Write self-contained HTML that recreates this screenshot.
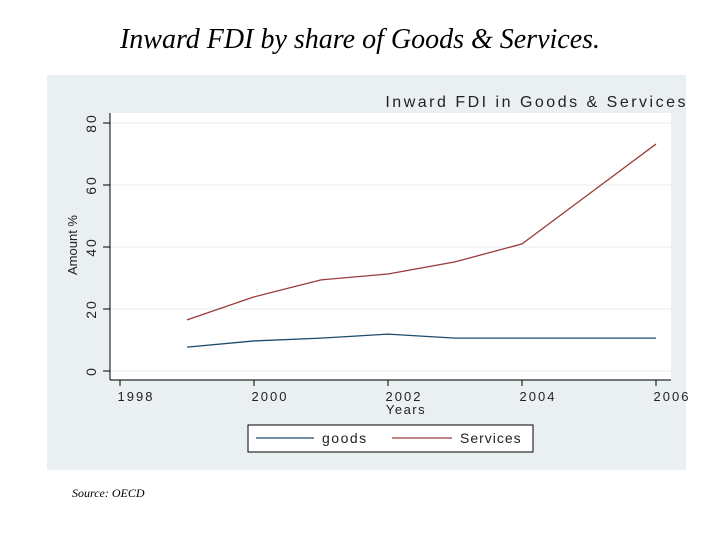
<!DOCTYPE html>
<html><head><meta charset="utf-8"><style>
body{margin:0;width:720px;height:540px;background:#fff;overflow:hidden;font-family:"Liberation Sans",sans-serif}
</style></head><body>
<svg width="720" height="540">
<text x="360" y="48" text-anchor="middle" font-family="Liberation Serif" font-style="italic" font-size="28">Inward FDI by share of Goods &amp; Services.</text>
<rect x="47" y="75" width="639" height="395" fill="#eaf0f2"/>
<rect x="110" y="113" width="561" height="266" fill="#fff"/>
<text x="688" y="107" text-anchor="end" font-size="16" fill="#222" letter-spacing="2.5">Inward FDI in Goods &amp; Services</text>
<g id="grid"></g><g id="axes"></g><g id="lines"></g>
<text x="406" y="414" text-anchor="middle" font-size="13" fill="#222" letter-spacing="1.5">Years</text>
<text transform="translate(77,245) rotate(-90)" text-anchor="middle" font-size="13" fill="#222">Amount %</text>
<rect x="248" y="425" width="285" height="27" fill="#fff" stroke="#000"/>
<line x1="256" y1="438" x2="314" y2="438" stroke="#1a4a6b" stroke-width="1.2"/>
<text x="322" y="443" font-size="14" fill="#222" letter-spacing="1.5">goods</text>
<line x1="392" y1="438" x2="452" y2="438" stroke="#9a3a3a" stroke-width="1.2"/>
<text x="460" y="443" font-size="14" fill="#222" letter-spacing="1">Services</text>
<text x="72" y="497" font-family="Liberation Serif" font-style="italic" font-size="12">Source: OECD</text>
</svg>
<script>
const years=[1999,2000,2001,2002,2003,2004,2005,2006];
const goods=[7.7,9.7,10.6,11.9,10.6,10.6,10.6,10.6];
const services=[16.5,23.9,29.4,31.3,35.2,41,57.1,73.2];
const xTicks=[1998,2000,2002,2004,2006];
const yTicks=[0,20,40,60,80];
const X=v=>120+(v-1998)*67, Y=v=>371-v*3.1;
const ns="http://www.w3.org/2000/svg";
function mk(p,t,a){const e=document.createElementNS(ns,t);for(const k in a)e.setAttribute(k,a[k]);document.getElementById(p).appendChild(e);return e;}
yTicks.forEach(v=>{
 const g=mk('grid','line',{x1:110,x2:671,y1:Y(v),y2:Y(v),stroke:'#e6eef2'});
 
 
 const t=mk('axes','line',{x1:103,x2:110,y1:Y(v),y2:Y(v),stroke:'#000'});
 
 
 const l=mk('axes','text',{transform:`translate(96,${Y(v)}) rotate(-90)`,'text-anchor':'middle','font-size':14,fill:'#222','letter-spacing':'2'});
 l.textContent=v;
 
 
});
xTicks.forEach(v=>{
 const t=mk('axes','line',{x1:X(v),x2:X(v),y1:380,y2:386,stroke:'#000'});
 
 
 const l=mk('axes','text',{x:X(v)+16,y:401,'text-anchor':'middle','font-size':13,fill:'#222','letter-spacing':'2'});
 l.textContent=v;
 
 
});
const ya=mk('axes','line',{x1:110,x2:110,y1:113,y2:380,stroke:'#000'});


const xa=mk('axes','line',{x1:110,x2:671,y1:380,y2:380,stroke:'#000'});


[[goods,'#1a4a6b','goods-line'],[services,'#9a3a3a','services-line']].forEach(([d,c,n])=>{
 const p=mk('lines','polyline',{points:d.map((v,i)=>X(years[i])+','+Y(v)).join(' '),fill:'none',stroke:c,'stroke-width':1.3});
 
 
});
</script>
</body></html>
